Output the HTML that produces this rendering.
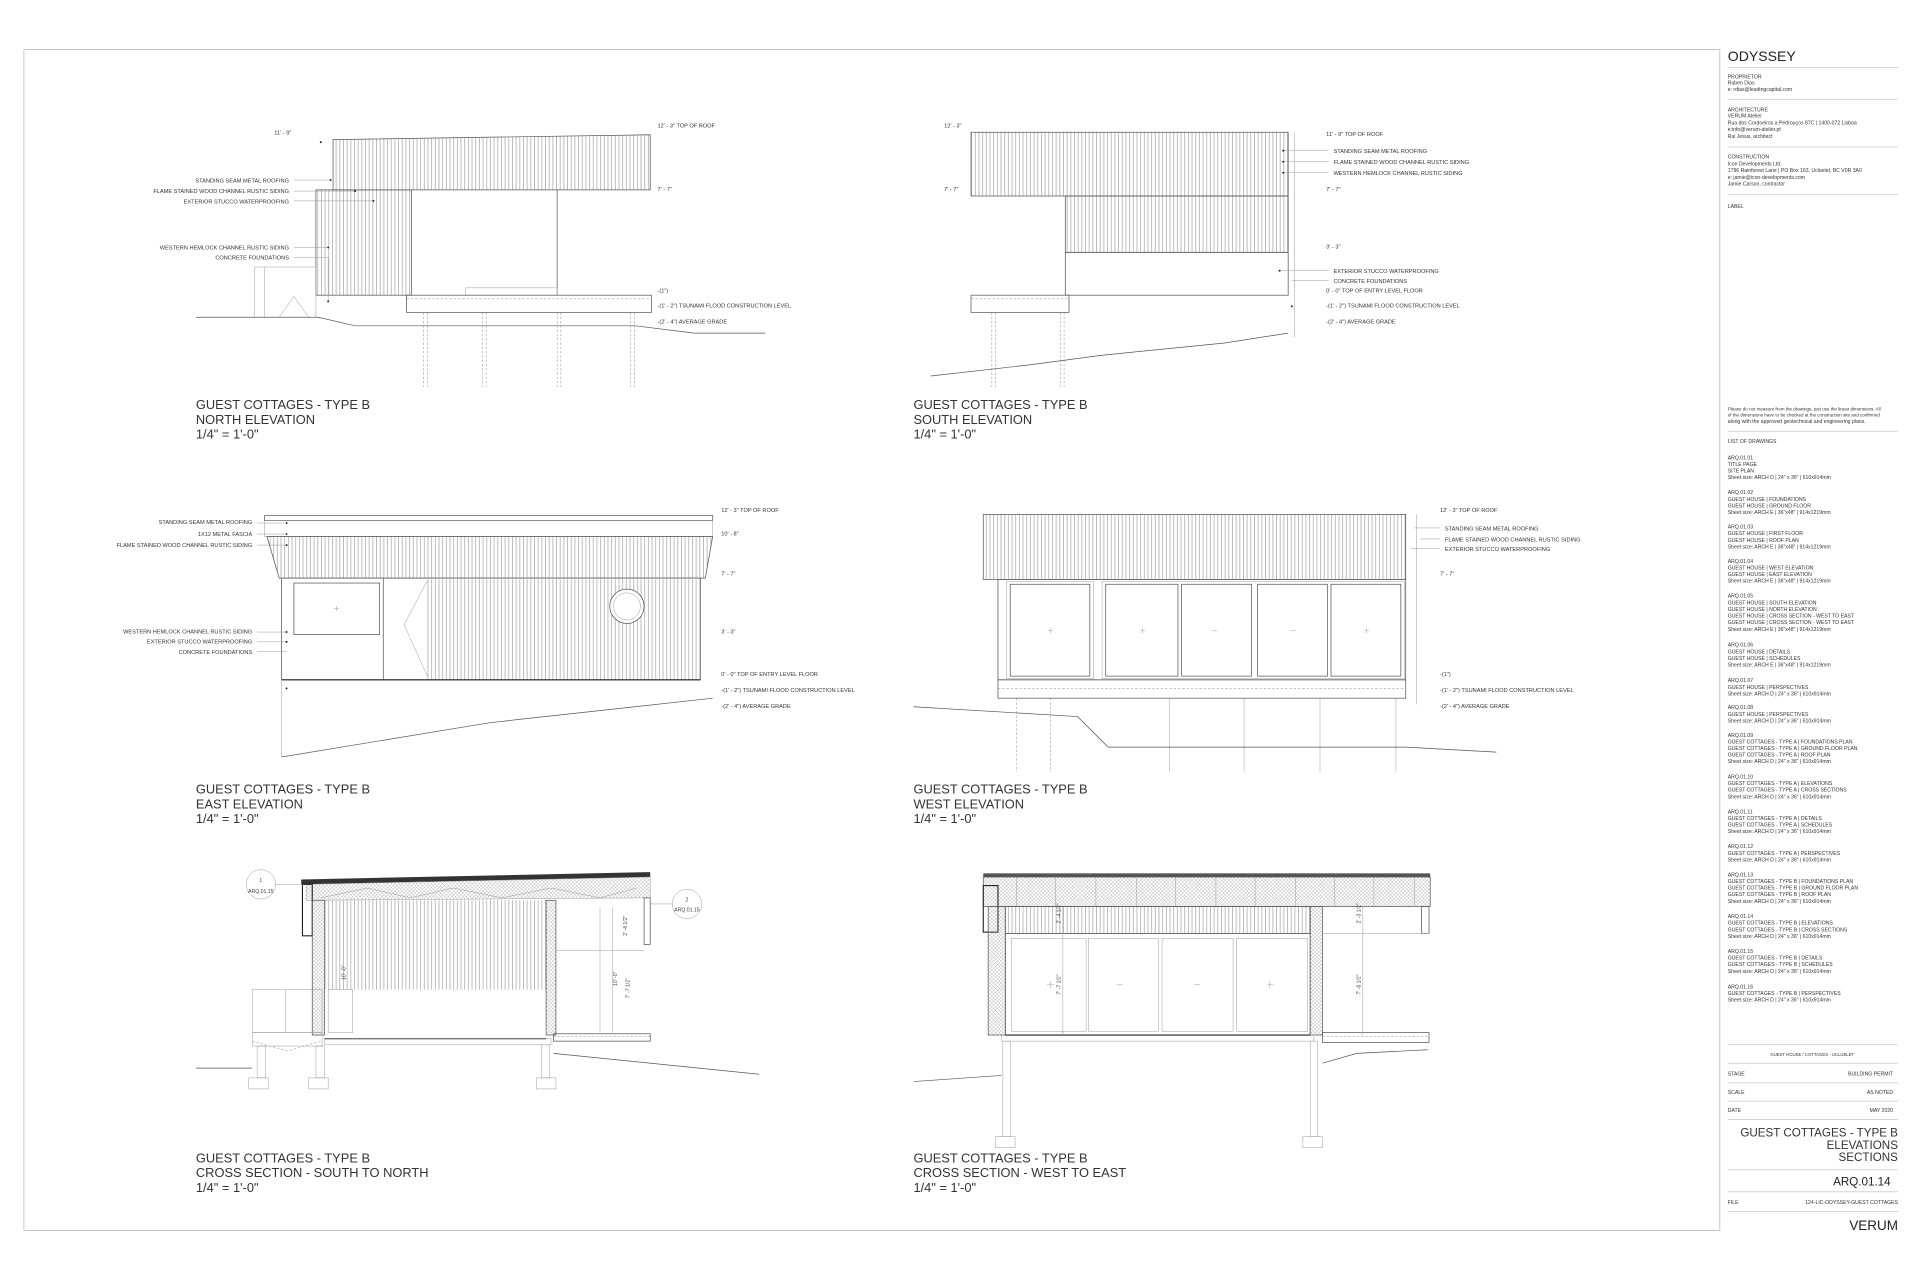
<!DOCTYPE html>
<html><head><meta charset="utf-8"><style>
html,body{margin:0;padding:0;background:#fff;}
svg{display:block;}
text{font-family:"Liberation Sans",sans-serif;fill:#333;}
.s{font-size:4.6px;}
.t{font-size:4.2px;fill:#444;}
.h{font-size:10.5px;fill:#222;}
.ln{stroke:#555;stroke-width:0.6;fill:none;}
.lt{stroke:#999;stroke-width:0.4;fill:none;}
.dk{stroke:#222;stroke-width:0.9;fill:none;}
.ds{stroke:#888;stroke-width:0.4;fill:none;stroke-dasharray:2,1.5;}
</style></head><body>
<svg width="1920" height="1280" viewBox="0 0 1568 1045" preserveAspectRatio="none" xmlns="http://www.w3.org/2000/svg">
<defs>
<pattern id="sid" width="3" height="10" patternUnits="userSpaceOnUse"><line x1="1.5" y1="0" x2="1.5" y2="10" stroke="#888" stroke-width="0.45"/></pattern>
<pattern id="ins" width="3" height="3" patternUnits="userSpaceOnUse"><path d="M0,0L3,3M3,0L0,3" stroke="#999" stroke-width="0.3"/></pattern>
</defs>
<rect x="0" y="0" width="1568" height="1045" fill="#fff"/>
<rect x="19.5" y="40.5" width="1385" height="964" fill="none" stroke="#bbb" stroke-width="0.7"/>

<!-- ============ NORTH ELEVATION ============ -->
<g>
<polygon points="272,114 531,110 531,155 272,155" style="fill:url(#sid)" class="ln"/>
<rect x="258" y="155" width="78" height="86" style="fill:url(#sid)" class="ln"/>
<line x1="455" y1="155" x2="455" y2="241" class="ln"/>
<rect x="380" y="235" width="75" height="6" class="lt"/>
<rect x="332" y="241" width="200" height="14" class="ln"/>
<line x1="332" y1="244" x2="532" y2="244" class="ds"/>
<rect x="208" y="218" width="50" height="41" class="lt"/>
<polyline points="228,259 240,242 252,259" class="lt"/>
<line x1="216" y1="218" x2="216" y2="259" class="lt"/>
<g class="ds"><line x1="346" y1="255" x2="346" y2="316"/><line x1="349" y1="255" x2="349" y2="316"/><line x1="394" y1="255" x2="394" y2="316"/><line x1="397" y1="255" x2="397" y2="316"/><line x1="455" y1="255" x2="455" y2="316"/><line x1="458" y1="255" x2="458" y2="316"/><line x1="515" y1="255" x2="515" y2="316"/><line x1="518" y1="255" x2="518" y2="316"/></g>
<polyline points="160,259 260,259 290,266 519,266 567,272 625,272" class="ln"/>
<g class="lt"><line x1="240" y1="147" x2="270" y2="147"/><line x1="240" y1="156" x2="290" y2="156"/><line x1="240" y1="164" x2="305" y2="164"/><line x1="240" y1="202" x2="268" y2="202"/><line x1="240" y1="210" x2="268" y2="210"/><line x1="268" y1="210" x2="268" y2="246"/></g>
<g fill="#222"><circle cx="270" cy="147" r="0.8"/><circle cx="290" cy="156" r="0.8"/><circle cx="305" cy="164" r="0.8"/><circle cx="268" cy="202" r="0.8"/><circle cx="268" cy="246" r="0.8"/><circle cx="262" cy="116" r="0.8"/></g>
<g class="s" text-anchor="end"><text x="236" y="149">STANDING SEAM METAL ROOFING</text><text x="236" y="157.5">FLAME STAINED WOOD CHANNEL RUSTIC SIDING</text><text x="236" y="166">EXTERIOR STUCCO WATERPROOFING</text><text x="236" y="203.5">WESTERN HEMLOCK CHANNEL RUSTIC SIDING</text><text x="236" y="212">CONCRETE FOUNDATIONS</text></g>
<text class="s" x="224" y="110">11' - 9"</text>
<g class="s"><text x="537" y="104">12' - 3" TOP OF ROOF</text><text x="537" y="156">7' - 7"</text><text x="537" y="239">-(1")</text><text x="537" y="251">-(1' - 2") TSUNAMI FLOOD CONSTRUCTION LEVEL</text><text x="537" y="264">-(2' - 4") AVERAGE GRADE</text></g>
<g class="h"><text x="160" y="334">GUEST COTTAGES - TYPE B</text><text x="160" y="346">NORTH ELEVATION</text><text x="160" y="358">1/4" = 1'-0"</text></g>
</g>

<!-- ============ SOUTH ELEVATION ============ -->
<g>
<polygon points="793,108 1052,108 1052,160 793,160" style="fill:url(#sid)" class="ln"/>
<rect x="870" y="160" width="182" height="46" style="fill:url(#sid)" class="ln"/>
<rect x="870" y="206" width="182" height="35" class="ln"/>
<rect x="793" y="241" width="80" height="14" class="ln"/>
<line x1="793" y1="244" x2="873" y2="244" class="ds"/>
<g class="ds"><line x1="810" y1="255" x2="810" y2="316"/><line x1="813" y1="255" x2="813" y2="316"/><line x1="866" y1="255" x2="866" y2="316"/><line x1="869" y1="255" x2="869" y2="316"/></g>
<polyline points="760,307 840,298 900,290 1000,280 1052,272" class="ln"/>
<line x1="1057" y1="108" x2="1057" y2="275" class="lt"/>
<g class="lt"><line x1="1048" y1="123" x2="1085" y2="123"/><line x1="1048" y1="132" x2="1085" y2="132"/><line x1="1048" y1="141" x2="1085" y2="141"/><line x1="1045" y1="221" x2="1085" y2="221"/><line x1="1055" y1="229" x2="1085" y2="229"/></g>
<g fill="#222"><circle cx="1048" cy="123" r="0.8"/><circle cx="1048" cy="132" r="0.8"/><circle cx="1048" cy="141" r="0.8"/><circle cx="1045" cy="221" r="0.8"/><circle cx="1055" cy="250" r="0.8"/></g>
<g class="s"><text x="771" y="104">12' - 3"</text><text x="771" y="156">7' - 7"</text>
<text x="1083" y="111">11' - 9" TOP OF ROOF</text><text x="1089" y="125">STANDING SEAM METAL ROOFING</text><text x="1089" y="134">FLAME STAINED WOOD CHANNEL RUSTIC SIDING</text><text x="1089" y="143">WESTERN HEMLOCK CHANNEL RUSTIC SIDING</text><text x="1083" y="156">7' - 7"</text><text x="1083" y="203">3' - 3"</text><text x="1089" y="223">EXTERIOR STUCCO WATERPROOFING</text><text x="1089" y="231">CONCRETE FOUNDATIONS</text><text x="1083" y="239">0' - 0" TOP OF ENTRY LEVEL FLOOR</text><text x="1083" y="251">-(1' - 2") TSUNAMI FLOOD CONSTRUCTION LEVEL</text><text x="1083" y="264">-(2' - 4") AVERAGE GRADE</text></g>
<g class="h"><text x="746" y="334">GUEST COTTAGES - TYPE B</text><text x="746" y="346">SOUTH ELEVATION</text><text x="746" y="358">1/4" = 1'-0"</text></g>
</g>

<!-- ============ EAST ELEVATION ============ -->
<g>
<rect x="216" y="421" width="366" height="4" class="ln"/>
<rect x="216" y="425" width="366" height="13" class="lt"/>
<polygon points="218,438 582,438 576,472 228,472" style="fill:url(#sid)" class="ln"/>
<rect x="230" y="472" width="342" height="83" class="ln"/>
<rect x="349" y="473" width="223" height="82" style="fill:url(#sid)" stroke="none"/>
<rect x="240" y="476" width="70" height="42" class="ln"/>
<path d="M273,497h4M275,495v4" class="lt"/>
<line x1="313" y1="472" x2="313" y2="555" class="ln"/>
<polyline points="349,474 330,510 349,552" class="lt"/>
<circle cx="512" cy="495" r="14" fill="#fff" class="ln" style="fill:#fff"/><circle cx="512" cy="495" r="11" class="lt"/>
<line x1="230" y1="555" x2="572" y2="555" class="dk"/>
<line x1="230" y1="555" x2="230" y2="618" class="lt"/>
<polyline points="230,618 400,590 582,570" class="ln"/>
<g class="lt"><line x1="210" y1="427" x2="232" y2="427"/><line x1="210" y1="436" x2="232" y2="436"/><line x1="210" y1="445" x2="232" y2="445"/><line x1="210" y1="516" x2="234" y2="516"/><line x1="210" y1="524" x2="234" y2="524"/><line x1="210" y1="532" x2="234" y2="532"/></g>
<g fill="#222"><circle cx="234" cy="427" r="0.8"/><circle cx="234" cy="436" r="0.8"/><circle cx="234" cy="445" r="0.8"/><circle cx="234" cy="516" r="0.8"/><circle cx="234" cy="524" r="0.8"/><circle cx="234" cy="562" r="0.8"/></g>
<g class="s" text-anchor="end"><text x="206" y="428">STANDING SEAM METAL ROOFING</text><text x="206" y="437.5">1X12 METAL FASCIA</text><text x="206" y="446.5">FLAME STAINED WOOD CHANNEL RUSTIC SIDING</text><text x="206" y="517">WESTERN HEMLOCK CHANNEL RUSTIC SIDING</text><text x="206" y="525.5">EXTERIOR STUCCO WATERPROOFING</text><text x="206" y="534">CONCRETE FOUNDATIONS</text></g>
<g class="s"><text x="589" y="418">12' - 3" TOP OF ROOF</text><text x="589" y="437">10' - 8"</text><text x="589" y="470">7' - 7"</text><text x="589" y="517">3' - 3"</text><text x="589" y="552">0' - 0" TOP OF ENTRY LEVEL FLOOR</text><text x="589" y="565">-(1' - 2") TSUNAMI FLOOD CONSTRUCTION LEVEL</text><text x="589" y="578">-(2' - 4") AVERAGE GRADE</text></g>
<g class="h"><text x="160" y="648">GUEST COTTAGES - TYPE B</text><text x="160" y="660">EAST ELEVATION</text><text x="160" y="672">1/4" = 1'-0"</text></g>
</g>

<!-- ============ WEST ELEVATION ============ -->
<g>
<rect x="803" y="420" width="345" height="53" style="fill:url(#sid)" class="ln"/>
<rect x="815" y="473" width="333" height="82" class="ln"/>
<g class="ln"><rect x="825" y="477" width="65" height="75"/><rect x="903" y="477" width="59" height="75"/><rect x="965" y="477" width="57" height="75"/><rect x="1027" y="477" width="57" height="75"/><rect x="1087" y="477" width="57" height="75"/></g>
<g class="lt"><rect x="822" y="475" width="71" height="79"/><rect x="900" y="475" width="247" height="79"/></g>
<g class="lt"><path d="M856,515h4M858,513v4M931,515h4M933,513v4M990,515h4M1054,515h4M1114,515h4M1116,513v4"/></g>
<rect x="815" y="555" width="333" height="15" class="ln"/>
<line x1="815" y1="562" x2="1148" y2="562" class="ds"/>
<g class="ds"><line x1="830" y1="570" x2="830" y2="630"/><line x1="858" y1="570" x2="858" y2="630"/></g>
<g class="lt"><line x1="955" y1="570" x2="955" y2="630"/><line x1="1016" y1="570" x2="1016" y2="630"/><line x1="1078" y1="570" x2="1078" y2="630"/><line x1="1140" y1="570" x2="1140" y2="630"/></g>
<polyline points="746,577 880,585 905,610 1148,610 1222,614" class="ln"/>
<g class="lt"><line x1="1155" y1="431" x2="1176" y2="431"/><line x1="1160" y1="440" x2="1176" y2="440"/><line x1="1152" y1="448" x2="1176" y2="448"/><line x1="1157" y1="420" x2="1157" y2="575"/></g>
<g class="s"><text x="1176" y="418">12' - 3" TOP OF ROOF</text><text x="1180" y="433">STANDING SEAM METAL ROOFING</text><text x="1180" y="442">FLAME STAINED WOOD CHANNEL RUSTIC SIDING</text><text x="1180" y="450">EXTERIOR STUCCO WATERPROOFING</text><text x="1176" y="470">7' - 7"</text><text x="1176" y="552">-(1")</text><text x="1176" y="565">-(1' - 2") TSUNAMI FLOOD CONSTRUCTION LEVEL</text><text x="1176" y="578">-(2' - 4") AVERAGE GRADE</text></g>
<g class="h"><text x="746" y="648">GUEST COTTAGES - TYPE B</text><text x="746" y="660">WEST ELEVATION</text><text x="746" y="672">1/4" = 1'-0"</text></g>
</g>

<!-- ============ CROSS SECTION S-N ============ -->
<g>
<polygon points="246,718 531,712 531,716 246,722" fill="#333"/>
<polygon points="250,722 531,716 531,733 250,735" style="fill:url(#ins)" class="lt"/>
<polyline points="262,733 300,725 335,733 370,725 410,733 450,725 490,733 520,725" class="lt"/>
<rect x="247" y="722" width="8" height="42" class="dk"/>
<rect x="255" y="735" width="10" height="110" style="fill:url(#ins)" class="ln"/>
<rect x="446" y="735" width="8" height="110" style="fill:url(#ins)" class="ln"/>
<rect x="526" y="733" width="5" height="38" class="ln"/>
<rect x="265" y="735" width="181" height="73" style="fill:url(#sid)" stroke="none"/>
<line x1="265" y1="848" x2="446" y2="848" class="dk"/>
<rect x="265" y="848" width="185" height="5" class="lt"/>
<rect x="268" y="808" width="20" height="35" class="lt"/>
<rect x="206" y="808" width="57" height="35" class="lt"/>
<line x1="233" y1="808" x2="233" y2="843" class="lt"/>
<polyline points="206,850 235,858 262,850" class="ds"/>
<rect x="206" y="843" width="57" height="11" class="lt"/>
<g class="lt"><rect x="210" y="854" width="7" height="26"/><rect x="258" y="854" width="7" height="26"/><rect x="442" y="853" width="7" height="27"/><rect x="203" y="880" width="16" height="9"/><rect x="252" y="880" width="16" height="9"/><rect x="438" y="880" width="16" height="9"/></g>
<rect x="452" y="844" width="79" height="6" class="ln"/>
<line x1="452" y1="846" x2="531" y2="846" class="ds"/>
<polyline points="160,872 206,872" class="ln"/>
<polyline points="452,860 620,877" class="ln"/>
<line x1="490" y1="741" x2="490" y2="843" class="lt"/><line x1="500" y1="741" x2="500" y2="843" class="lt"/>
<line x1="454" y1="776" x2="526" y2="776" class="lt"/>
<text class="t" transform="translate(512,764) rotate(-90)">2' -4 1/2"</text>
<text class="t" transform="translate(504,805) rotate(-90)">10' -0"</text>
<text class="t" transform="translate(514,815) rotate(-90)">7' -7 1/2"</text>
<text class="t" transform="translate(282,800) rotate(-90)">10' -0"</text>
<circle cx="213" cy="722" r="12" class="lt"/><line x1="225" y1="722" x2="247" y2="722" class="lt"/>
<text class="t" x="213" y="720" text-anchor="middle">1</text><text class="t" x="213" y="729" text-anchor="middle">ARQ.01.15</text>
<circle cx="561" cy="738" r="12" class="lt"/><line x1="531" y1="738" x2="549" y2="738" class="lt"/>
<text class="t" x="561" y="736" text-anchor="middle">2</text><text class="t" x="561" y="744" text-anchor="middle">ARQ.01.15</text>
<g class="h"><text x="160" y="949">GUEST COTTAGES - TYPE B</text><text x="160" y="961">CROSS SECTION - SOUTH TO NORTH</text><text x="160" y="973">1/4" = 1'-0"</text></g>
</g>

<!-- ============ CROSS SECTION W-E ============ -->
<g>
<rect x="803" y="713" width="365" height="3" fill="#555"/>
<rect x="803" y="716" width="365" height="24" style="fill:url(#ins)" class="ln"/>
<g class="lt"><path d="M830,716v24M862,716v24M895,716v24M928,716v24M960,716v24M993,716v24M1025,716v24M1058,716v24M1090,716v24M1122,716v24M1155,716v24"/></g>
<rect x="803" y="723" width="12" height="38" class="dk"/>
<rect x="807" y="740" width="14" height="105" style="fill:url(#ins)" class="ln"/>
<rect x="1070" y="740" width="10" height="105" style="fill:url(#ins)" class="ln"/>
<rect x="821" y="740" width="249" height="22" style="fill:url(#sid)" class="ln"/>
<rect x="821" y="762" width="249" height="83" class="ln"/>
<g class="lt"><rect x="826" y="766" width="61" height="76"/><rect x="889" y="766" width="57" height="76"/><rect x="949" y="766" width="58" height="76"/><rect x="1010" y="766" width="58" height="76"/></g>
<g class="lt"><path d="M855,804h6M858,801v6M912,804h5M975,804h5M1035,804h5M1037,801v6"/></g>
<rect x="1161" y="740" width="6" height="22" class="ln"/>
<line x1="1080" y1="762" x2="1167" y2="762" class="lt"/>
<rect x="818" y="845" width="255" height="5" class="lt"/>
<line x1="821" y1="845" x2="1070" y2="845" class="dk"/>
<g class="lt"><rect x="819" y="850" width="6" height="78"/><rect x="1070" y="850" width="6" height="78"/><rect x="813" y="928" width="16" height="9"/><rect x="1064" y="928" width="16" height="9"/></g>
<rect x="1080" y="843" width="87" height="8" class="ln"/>
<line x1="1080" y1="846" x2="1167" y2="846" class="ds"/>
<polyline points="1080,868 1108,860 1166,857" class="ln"/>
<polyline points="746,883 818,878" class="ln"/>
<line x1="868" y1="740" x2="868" y2="845" class="lt"/><line x1="1113" y1="740" x2="1113" y2="845" class="lt"/>
<text class="t" transform="translate(866,754) rotate(-90)">2' -4 1/2"</text>
<text class="t" transform="translate(866,812) rotate(-90)">7' -7 1/2"</text>
<text class="t" transform="translate(1111,754) rotate(-90)">2' -3 1/2"</text>
<text class="t" transform="translate(1111,812) rotate(-90)">7' -8 1/2"</text>
<g class="h"><text x="746" y="949">GUEST COTTAGES - TYPE B</text><text x="746" y="961">CROSS SECTION - WEST TO EAST</text><text x="746" y="973">1/4" = 1'-0"</text></g>
</g>

<!-- ============ TITLE BLOCK ============ -->
<g>
<text x="1411" y="50" style="font-size:11.5px;fill:#222">ODYSSEY</text>
<g stroke="#bbb" stroke-width="0.5"><line x1="1411" y1="55" x2="1550" y2="55"/><line x1="1411" y1="81" x2="1550" y2="81"/><line x1="1411" y1="120" x2="1550" y2="120"/><line x1="1411" y1="159" x2="1550" y2="159"/><line x1="1411" y1="352" x2="1550" y2="352"/>
<line x1="1411" y1="853" x2="1550" y2="853"/><line x1="1411" y1="868" x2="1550" y2="868"/><line x1="1411" y1="884" x2="1550" y2="884"/><line x1="1411" y1="899" x2="1550" y2="899"/><line x1="1411" y1="914" x2="1550" y2="914"/><line x1="1411" y1="955" x2="1550" y2="955"/><line x1="1411" y1="973" x2="1550" y2="973"/><line x1="1411" y1="989" x2="1550" y2="989"/></g>
<g class="t"><text x="1411" y="64">PROPRIETOR</text><text x="1411" y="69">Ruben Dias</text><text x="1411" y="74.5">e: rdias@leadingcapital.com</text>
<text x="1411" y="91">ARCHITECTURE</text><text x="1411" y="96">VERUM Atelier</text><text x="1411" y="101.5">Rua dos Cordoeiros a Pedrouços 87C |  1400-072 Lisboa</text><text x="1411" y="107">e:info@verum-atelier.pt</text><text x="1411" y="112.5">Rui Jesus, architect</text>
<text x="1411" y="129.5">CONSTRUCTION</text><text x="1411" y="135">Icon Developments Ltd.</text><text x="1411" y="140.5">1796 Rainforest Lane | PO Box 163, Ucluelet, BC V0R 3A0</text><text x="1411" y="146">e: jamie@icon-developments.com</text><text x="1411" y="151.5">Jamie Carson, contractor</text>
<text x="1411" y="170">LABEL</text>
<text x="1411" y="335" style="font-size:3.7px">Please do not measure from the drawings, just use the linear dimensions. All</text><text x="1411" y="340" style="font-size:3.7px">of the dimensions have to be checked at the construction site and confirmed</text><text x="1411" y="345.5">along with the approved geotechnical and engineering plans.</text>
<text x="1411" y="361.5">LIST OF DRAWINGS</text>
<text x="1411" y="375">ARQ.01.01</text><text x="1411" y="380.4">TITLE PAGE</text><text x="1411" y="385.8">SITE PLAN</text><text x="1411" y="391.2">Sheet size: ARCH D | 24" x 36" | 610x914mm</text>
<text x="1411" y="403.5">ARQ.01.02</text><text x="1411" y="408.9">GUEST HOUSE | FOUNDATIONS</text><text x="1411" y="414.3">GUEST HOUSE | GROUND FLOOR</text><text x="1411" y="419.7">Sheet size: ARCH E | 36"x48" | 914x1219mm</text>
<text x="1411" y="431.5">ARQ.01.03</text><text x="1411" y="436.9">GUEST HOUSE | FIRST FLOOR</text><text x="1411" y="442.3">GUEST HOUSE | ROOF PLAN</text><text x="1411" y="447.7">Sheet size: ARCH E | 36"x48" | 914x1219mm</text>
<text x="1411" y="459.5">ARQ.01.04</text><text x="1411" y="464.9">GUEST HOUSE | WEST ELEVATION</text><text x="1411" y="470.3">GUEST HOUSE | EAST ELEVATION</text><text x="1411" y="475.7">Sheet size: ARCH E | 36"x48" | 914x1219mm</text>
<text x="1411" y="488">ARQ.01.05</text><text x="1411" y="493.4">GUEST HOUSE | SOUTH ELEVATION</text><text x="1411" y="498.8">GUEST HOUSE | NORTH ELEVATION</text><text x="1411" y="504.2">GUEST HOUSE | CROSS SECTION - WEST TO EAST</text><text x="1411" y="509.6">GUEST HOUSE | CROSS SECTION - WEST TO EAST</text><text x="1411" y="515">Sheet size: ARCH E | 36"x48" | 914x1219mm</text>
<text x="1411" y="528">ARQ.01.06</text><text x="1411" y="533.4">GUEST HOUSE | DETAILS</text><text x="1411" y="538.8">GUEST HOUSE | SCHEDULES</text><text x="1411" y="544.2">Sheet size: ARCH E | 36"x48" | 914x1219mm</text>
<text x="1411" y="557">ARQ.01.07</text><text x="1411" y="562.4">GUEST HOUSE | PERSPECTIVES</text><text x="1411" y="567.8">Sheet size: ARCH D | 24" x 36" | 610x914mm</text>
<text x="1411" y="579">ARQ.01.08</text><text x="1411" y="584.4">GUEST HOUSE | PERSPECTIVES</text><text x="1411" y="589.8">Sheet size: ARCH D | 24" x 36" | 610x914mm</text>
<text x="1411" y="601.5">ARQ.01.09</text><text x="1411" y="606.9">GUEST COTTAGES - TYPE A | FOUNDATIONS PLAN</text><text x="1411" y="612.3">GUEST COTTAGES - TYPE A | GROUND FLOOR PLAN</text><text x="1411" y="617.7">GUEST COTTAGES - TYPE A | ROOF PLAN</text><text x="1411" y="623.1">Sheet size: ARCH D | 24" x 36" | 610x914mm</text>
<text x="1411" y="635.5">ARQ.01.10</text><text x="1411" y="640.9">GUEST COTTAGES - TYPE A | ELEVATIONS</text><text x="1411" y="646.3">GUEST COTTAGES - TYPE A | CROSS SECTIONS</text><text x="1411" y="651.7">Sheet size: ARCH D | 24" x 36" | 610x914mm</text>
<text x="1411" y="664">ARQ.01.11</text><text x="1411" y="669.4">GUEST COTTAGES - TYPE A | DETAILS</text><text x="1411" y="674.8">GUEST COTTAGES - TYPE A | SCHEDULES</text><text x="1411" y="680.2">Sheet size: ARCH D | 24" x 36" | 610x914mm</text>
<text x="1411" y="692.5">ARQ.01.12</text><text x="1411" y="697.9">GUEST COTTAGES - TYPE A | PERSPECTIVES</text><text x="1411" y="703.3">Sheet size: ARCH D | 24" x 36" | 610x914mm</text>
<text x="1411" y="715.5">ARQ.01.13</text><text x="1411" y="720.9">GUEST COTTAGES - TYPE B | FOUNDATIONS PLAN</text><text x="1411" y="726.3">GUEST COTTAGES - TYPE B | GROUND FLOOR PLAN</text><text x="1411" y="731.7">GUEST COTTAGES - TYPE B | ROOF PLAN</text><text x="1411" y="737.1">Sheet size: ARCH D | 24" x 36" | 610x914mm</text>
<text x="1411" y="749.5">ARQ.01.14</text><text x="1411" y="754.9">GUEST COTTAGES - TYPE B | ELEVATIONS</text><text x="1411" y="760.3">GUEST COTTAGES - TYPE B | CROSS SECTIONS</text><text x="1411" y="765.7">Sheet size: ARCH D | 24" x 36" | 610x914mm</text>
<text x="1411" y="778">ARQ.01.15</text><text x="1411" y="783.4">GUEST COTTAGES - TYPE B | DETAILS</text><text x="1411" y="788.8">GUEST COTTAGES - TYPE B | SCHEDULES</text><text x="1411" y="794.2">Sheet size: ARCH D | 24" x 36" | 610x914mm</text>
<text x="1411" y="807">ARQ.01.16</text><text x="1411" y="812.4">GUEST COTTAGES - TYPE B | PERSPECTIVES</text><text x="1411" y="817.8">Sheet size: ARCH D | 24" x 36" | 610x914mm</text>
<text x="1480" y="862" text-anchor="middle" style="font-size:3.5px">GUEST HOUSE / COTTAGES - UCLUELET</text>
<text x="1411" y="878">STAGE</text><text x="1546" y="878" text-anchor="end">BUILDING PERMIT</text>
<text x="1411" y="893">SCALE</text><text x="1546" y="893" text-anchor="end">AS NOTED</text>
<text x="1411" y="908">DATE</text><text x="1546" y="908" text-anchor="end">MAY 2020</text>
<text x="1411" y="983">FILE</text><text x="1550" y="983" text-anchor="end">124-LIC-ODYSSEY-GUEST COTTAGES</text>
</g>
<g style="font-size:9.5px;fill:#222" text-anchor="end"><text x="1550" y="928">GUEST COTTAGES - TYPE B</text><text x="1550" y="938">ELEVATIONS</text><text x="1550" y="948">SECTIONS</text></g>
<text x="1544" y="968" text-anchor="end" style="font-size:9.5px;fill:#222">ARQ.01.14</text>
<text x="1550" y="1004" text-anchor="end" style="font-size:11px;fill:#222">VERUM</text>
</g>
</svg>
</body></html>
